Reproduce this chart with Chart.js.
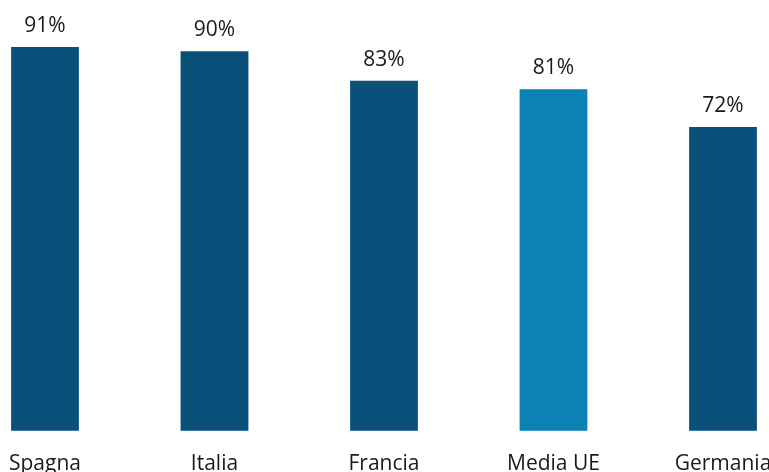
<!DOCTYPE html>
<html>
<head>
<meta charset="utf-8">
<script src="https://cdn.jsdelivr.net/npm/chart.js@4"></script>
<style>
  html, body { margin: 0; padding: 0; background: #fff; overflow: hidden; }
  .wrap { width: 769px; height: 498px; position: relative; }
</style>
</head>
<body>
<div class="wrap"><canvas id="chart"></canvas></div>
<script>
"use strict";

const countries = ["Spagna", "Italia", "Francia", "Media UE", "Germania"];
const shares = [91, 90, 83, 81, 72];
const highlight = "Media UE";

const darkBlue = "#09517a";
const lightBlue = "#0b81b4";

// labels above the bars, drawn from the bar elements
const valueLabels = {
  id: "valueLabels",
  afterDatasetsDraw(chart) {
    const ctx = chart.ctx;
    const meta = chart.getDatasetMeta(0);
    ctx.save();
    ctx.font = "21px 'Open Sans'";
    ctx.fillStyle = "#1a1a1a";
    ctx.textAlign = "center";
    ctx.textBaseline = "alphabetic";
    meta.data.forEach((bar, i) => {
      ctx.fillText(shares[i] + "%", bar.x, bar.y - 15);
    });
    ctx.restore();
  },
};

const ctx = document.getElementById("chart").getContext("2d");
const chart = new Chart(ctx, {
  type: "bar",
  data: {
    labels: countries,
    datasets: [
      {
        data: shares,
        backgroundColor: countries.map((c) => (c === highlight ? lightBlue : darkBlue)),
        barPercentage: 0.4,
        categoryPercentage: 1,
        clip: false,
      },
    ],
  },
  options: {
    responsive: true,
    maintainAspectRatio: false,
    animation: false,
    layout: { padding: { left: 45, right: 46, top: 9, bottom: 0 } },
    plugins: {
      legend: { display: false },
      tooltip: { enabled: false },
    },
    scales: {
      x: {
        offset: false,
        grid: { display: false, drawTicks: false },
        border: { display: false },
        ticks: {
          padding: 21,
          color: "#1a1a1a",
          font: { size: 21, family: "'Open Sans'" },
          maxRotation: 0,
          autoSkip: false,
        },
        afterFit(scale) {
          scale.paddingLeft = 0;
          scale.paddingRight = 0;
        },
      },
      y: {
        display: false,
        min: 0,
        max: 100,
      },
    },
  },
  plugins: [valueLabels],
});
</script>
</body>
</html>
